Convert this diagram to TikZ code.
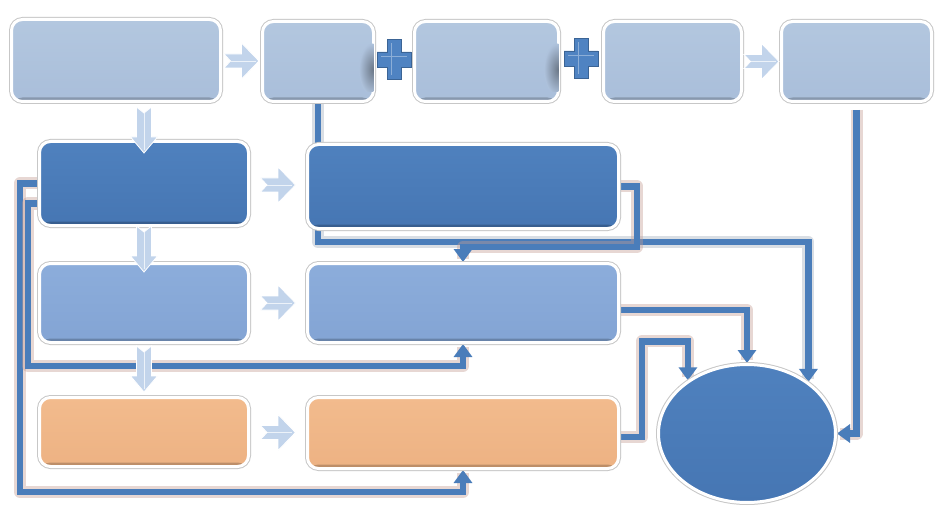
\documentclass[tikz,border=0pt]{standalone}
\usetikzlibrary{arrows.meta,shapes.geometric,shadows,calc,backgrounds}
\definecolor{lightbox}{HTML}{B3C7DF}
\definecolor{lightboxB}{HTML}{A9BEDA}
\definecolor{lightboxM}{HTML}{AEC2DC}
\definecolor{darkbox}{HTML}{4F81BE}
\definecolor{darkboxB}{HTML}{4676B3}
\definecolor{midbox}{HTML}{8CADDB}
\definecolor{midboxB}{HTML}{83A4D4}
\definecolor{orangebox}{HTML}{F2BB8D}
\definecolor{orangeboxB}{HTML}{EDB283}
\definecolor{connblue}{HTML}{4A7DBA}
\definecolor{halobrown}{HTML}{C49C92}
\definecolor{halogray}{HTML}{A2ADBD}
\definecolor{arrowlight}{HTML}{C2D4EB}
\definecolor{crossblue}{HTML}{4F83C2}
\begin{document}
\begin{tikzpicture}[x=1pt,y=-1pt,
  rim/.style={preaction={draw=black!22, line width=5pt}},
  box/.style={rounded corners=11pt, draw=white, line width=3pt, inner sep=0pt,
    drop shadow={opacity=0.25, shadow xshift=1pt, shadow yshift=-2pt},
    rim,
    path picture={\fill[black,opacity=0.2] ([yshift=4pt]path picture bounding box.south west) rectangle (path picture bounding box.south east);}},
  lb/.style={box, top color=lightbox, bottom color=lightboxB},
  db/.style={box, top color=darkbox, bottom color=darkboxB},
  mb/.style={box, top color=midbox, bottom color=midboxB},
  ob/.style={box, top color=orangebox, bottom color=orangeboxB},
  conn/.style={draw=connblue, line width=6.5pt, line join=miter,
    -{Triangle[width=18pt,length=13pt]},
    preaction={draw=#1, line width=12pt, opacity=0.4, arrows=-, line join=round, shorten >=3pt}},
  conn/.default=halobrown,
  blockarrow/.style={fill=arrowlight, draw=white, line width=0.8pt, line join=miter},
  crossst/.style={fill=crossblue, draw=connblue!80!black, line width=0.6pt},
  rarr/.pic={\draw[blockarrow] (-17.5,-7) -- (0,-7) -- (0,-18) -- (17.5,0) -- (0,18) -- (0,7) -- (-17.5,7) -- (-11,0) -- cycle;
             \draw[white,opacity=0.7,line width=0.8pt] (-11,0) -- (14,0);},
  darr/.pic={\draw[blockarrow] (-7.5,-23) -- (0,-17) -- (7.5,-23) -- (7.5,7) -- (13.5,7) -- (0,23) -- (-13.5,7) -- (-7.5,7) -- cycle;
             \draw[white,opacity=0.7,line width=0.8pt] (0,-17) -- (0,20);},
  crosspic/.pic={\draw[crossst] (-7,-20) -- (7,-20) -- (7,-7.5) -- (17,-7.5) -- (17,7.5) -- (7,7.5) -- (7,20) -- (-7,20) -- (-7,7.5) -- (-17,7.5) -- (-17,-7.5) -- (-7,-7.5) -- cycle;
                 \draw[white,opacity=0.35,line width=1pt] (-3,-16) -- (-3,16) (-13,-3) -- (13,-3);}
]
\useasboundingbox (0,0) rectangle (943,516);

% boxes
\node[lb, minimum width=209pt, minimum height=82pt] (A) at (116,60.5) {};
\node[lb, minimum width=111pt, minimum height=80pt] (B) at (318,61.5) {};
\node[lb, minimum width=144pt, minimum height=80pt] (C) at (486.5,61.5) {};
\node[lb, minimum width=138pt, minimum height=80pt] (D) at (672.5,61.5) {};
\node[lb, minimum width=150pt, minimum height=80pt] (E) at (856.5,61.5) {};
\node[db, minimum width=209pt, minimum height=84pt] (F) at (144,183.5) {};
\node[db, minimum width=311pt, minimum height=84pt] (G) at (463,186.5) {};
\node[mb, minimum width=209pt, minimum height=79pt] (H) at (144,303) {};
\node[mb, minimum width=311pt, minimum height=79pt] (I) at (463,303) {};
\node[ob, minimum width=209pt, minimum height=69pt] (J) at (144,432) {};
\node[ob, minimum width=311pt, minimum height=71pt] (K) at (463,433) {};
\node[ellipse, draw=white, line width=3pt, inner sep=0pt, top color=darkbox, bottom color=darkboxB,
      drop shadow={opacity=0.25, shadow xshift=1pt, shadow yshift=-2pt}, rim,
      minimum width=177pt, minimum height=138pt] (L) at (747,433.5) {};

% soft shadows cast by the crosses inside B and C
\begin{scope}
  \clip ($(B.east)+(-1.6,-30)$) rectangle ($(B.east)+(-40,30)$);
  \shade[inner color=black!38!lightboxM, outer color=lightboxM] ($(B.east)+(-2,8)$) ellipse (14 and 26);
\end{scope}
\begin{scope}
  \clip ($(C.east)+(-1.6,-30)$) rectangle ($(C.east)+(-40,30)$);
  \shade[inner color=black!38!lightboxM, outer color=lightboxM] ($(C.east)+(-2,8)$) ellipse (14 and 26);
\end{scope}

\coordinate (k1) at (0,242);

% connectors (behind the boxes)
\begin{scope}[on background layer]
  \fill[white] (0,0) rectangle (943,516);
  \draw[conn=halogray] (B.south) |- (L.40 |- k1) -- (L.40);
  \draw[conn] (G.east) -- ++(17,0) |- ($(I.north)+(0,-15)$) -- (I.north);
  \draw[conn] (F.west) -- ++(-18,0) |- ($(K.south)+(0,22)$) -- (K.south);
  \draw[conn] ($(F.west)+(0,20)$) -- ++(-10,0) |- ($(I.south)+(0,22)$) -- (I.south);
  \draw[conn] ($(I.east)+(0,7)$) -| (L.north);
  \draw[conn] ($(K.east)+(0,4)$) -- ++(22,0) |- ($(L.138)+(0,-39)$) -- (L.138);
  \draw[conn] ([yshift=-7pt]E.south) |- (L.east);
\end{scope}

% block arrows
\pic (ab) at ($(A.east)!0.5!(B.west)$) {rarr};
\pic (de) at ($(D.east)!0.5!(E.west)$) {rarr};
\pic (fg) at ($(F.east)!0.5!(G.west)$) {rarr};
\pic (hi) at ($(H.east)!0.5!(I.west)$) {rarr};
\pic (jk) at ($(J.east)!0.5!(K.west)$) {rarr};
\pic (af) at ($(F.north)+(0,-10)$) {darr};
\pic (fh) at ($(H.north)+(0,-13)$) {darr};
\pic (hj) at ($(J.north)+(0,-27)$) {darr};

% crosses
\pic (bc) at ($(B.east)!0.5!(C.west)+(0,-2)$) {crosspic};
\pic (cd) at ($(C.east)!0.5!(D.west)+(0,-3)$) {crosspic};
\end{tikzpicture}
\end{document}
